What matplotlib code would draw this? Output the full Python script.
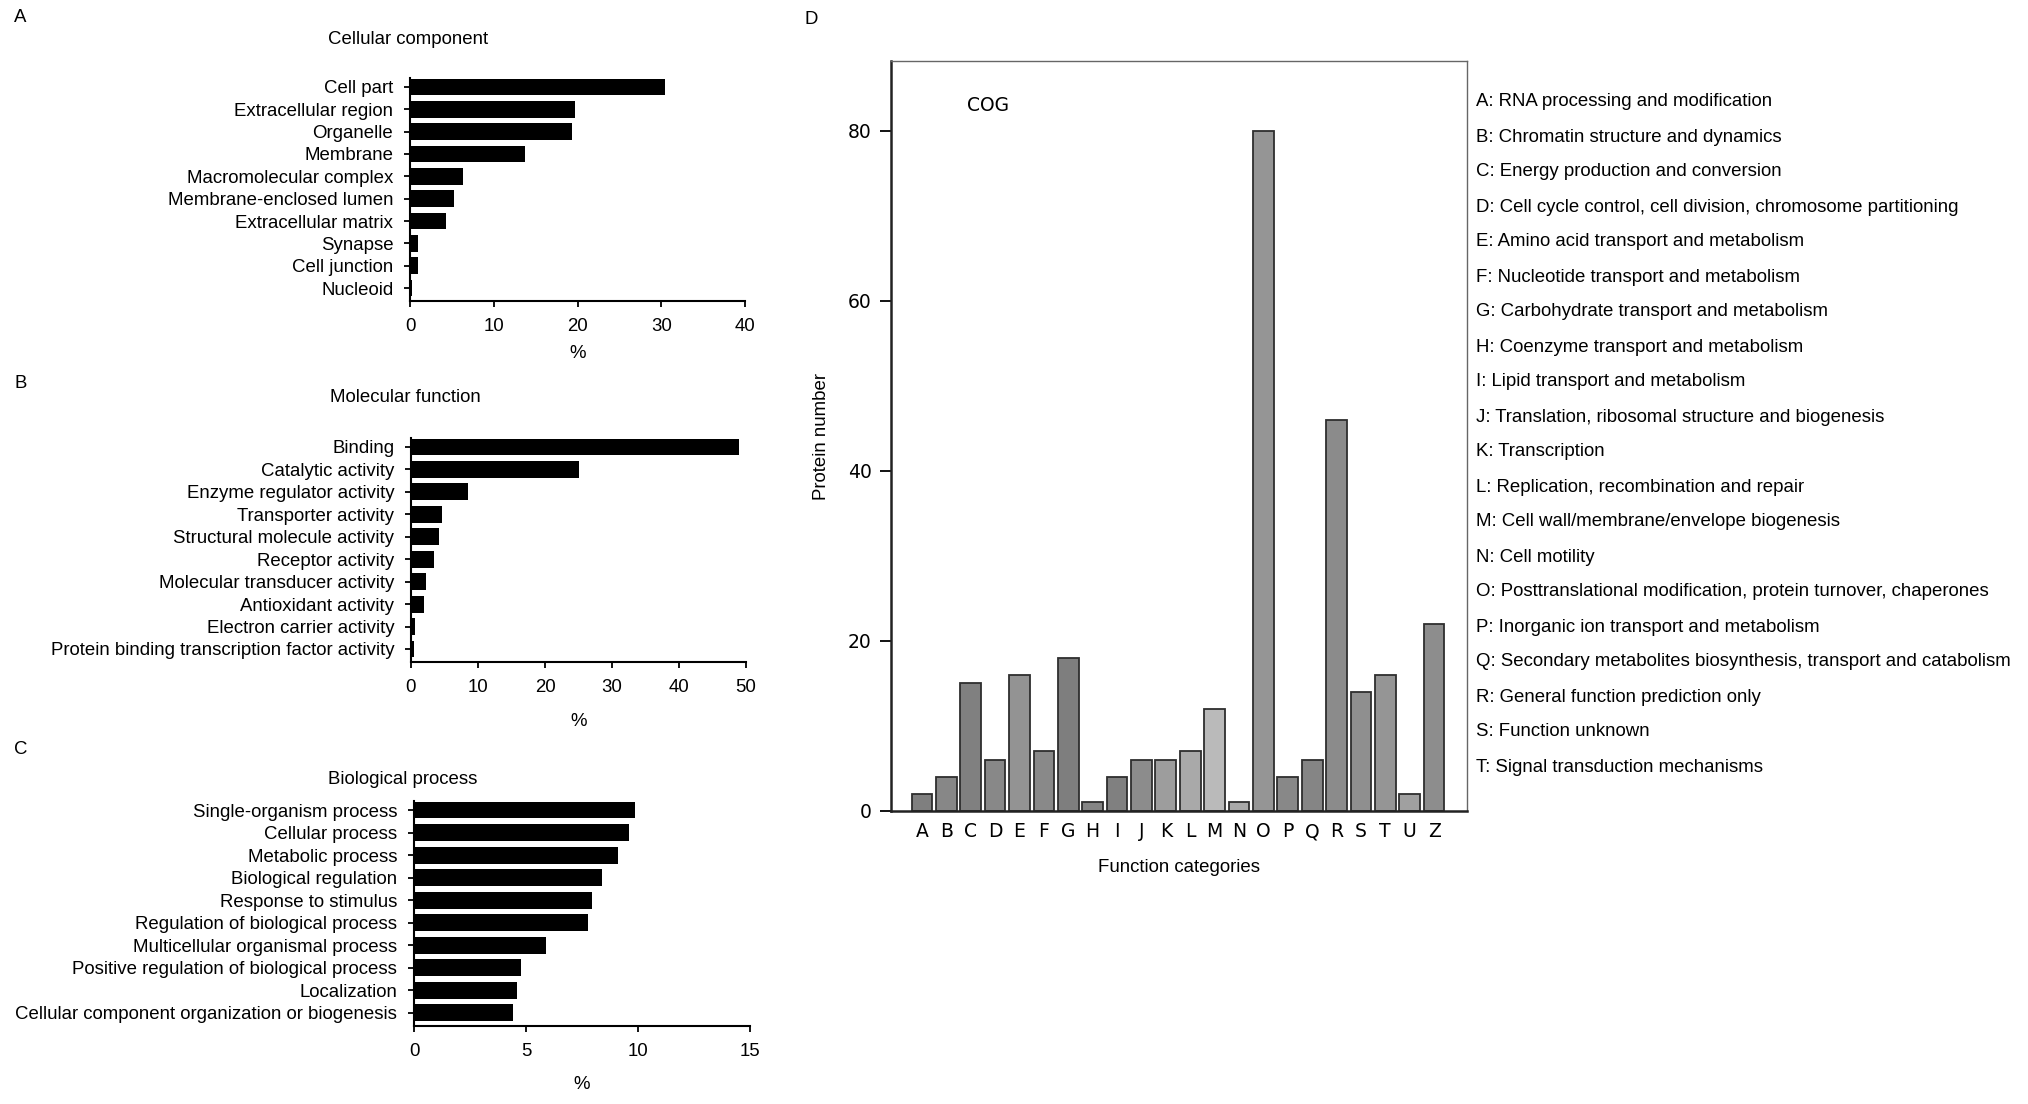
import matplotlib
matplotlib.use("Agg")
import matplotlib.pyplot as plt

plt.rcParams['font.family'] = ['Liberation Sans', 'DejaVu Sans']

# ---------------- data ----------------
cc_labels = ["Cell part", "Extracellular region", "Organelle", "Membrane",
             "Macromolecular complex", "Membrane-enclosed lumen",
             "Extracellular matrix", "Synapse", "Cell junction", "Nucleoid"]
cc_values = [30.5, 19.7, 19.3, 13.7, 6.3, 5.3, 4.3, 0.9, 0.9, 0.2]

mf_labels = ["Binding", "Catalytic activity", "Enzyme regulator activity",
             "Transporter activity", "Structural molecule activity",
             "Receptor activity", "Molecular transducer activity",
             "Antioxidant activity", "Electron carrier activity",
             "Protein binding transcription factor activity"]
mf_values = [48.9, 25.0, 8.5, 4.7, 4.2, 3.4, 2.3, 1.9, 0.6, 0.5]

bp_labels = ["Single-organism process", "Cellular process", "Metabolic process",
             "Biological regulation", "Response to stimulus",
             "Regulation of biological process", "Multicellular organismal process",
             "Positive regulation of biological process", "Localization",
             "Cellular component organization or biogenesis"]
bp_values = [9.87, 9.6, 9.1, 8.4, 7.95, 7.75, 5.9, 4.77, 4.6, 4.43]

cog_letters = ["A", "B", "C", "D", "E", "F", "G", "H", "I", "J", "K", "L",
               "M", "N", "O", "P", "Q", "R", "S", "T", "U", "Z"]
cog_values = [2, 4, 15, 6, 16, 7, 18, 1, 4, 6, 6, 7, 12, 1, 80, 4, 6, 46, 14, 16, 2, 22]
cog_colors = ["#7f7f7f", "#878787", "#808080", "#888888", "#939393", "#898989",
              "#7e7e7e", "#858585", "#808080", "#8c8c8c", "#9d9d9d", "#a9a9a9",
              "#bababa", "#a9a9a9", "#959595", "#888888", "#858585", "#8b8b8b",
              "#8f8f8f", "#959595", "#a0a0a0", "#8d8d8d"]

legend_lines = [
    "A: RNA processing and modification",
    "B: Chromatin structure and dynamics",
    "C: Energy production and conversion",
    "D: Cell cycle control, cell division, chromosome partitioning",
    "E: Amino acid transport and metabolism",
    "F: Nucleotide transport and metabolism",
    "G: Carbohydrate transport and metabolism",
    "H: Coenzyme transport and metabolism",
    "I: Lipid transport and metabolism",
    "J: Translation, ribosomal structure and biogenesis",
    "K: Transcription",
    "L: Replication, recombination and repair",
    "M: Cell wall/membrane/envelope biogenesis",
    "N: Cell motility",
    "O: Posttranslational modification, protein turnover, chaperones",
    "P: Inorganic ion transport and metabolism",
    "Q: Secondary metabolites biosynthesis, transport and catabolism",
    "R: General function prediction only",
    "S: Function unknown",
    "T: Signal transduction mechanisms",
]

W, H = 2028, 1104
fig = plt.figure(figsize=(W / 100, H / 100), dpi=100)


def fx(px):
    return px / W


def fy(py):
    return 1 - py / H


FS = 13.4


def hbar_panel(rect, labels, values, xmax, xticks, title, title_xy, letter_xy, letter, xlabelpad):
    ax = fig.add_axes(rect)
    pos = list(range(len(labels)))
    ax.barh(pos, values, height=0.75, color="black")
    ax.set_ylim(len(labels) - 0.42, -0.4)
    ax.set_xlim(0, xmax)
    ax.set_yticks(pos)
    ax.set_yticklabels(labels, fontsize=FS)
    ax.set_xticks(xticks)
    ax.set_xticklabels([str(t) for t in xticks], fontsize=FS)
    ax.set_xlabel("%", fontsize=FS, labelpad=xlabelpad)
    for s in ["top", "right"]:
        ax.spines[s].set_visible(False)
    for s in ["left", "bottom"]:
        ax.spines[s].set_linewidth(1.5)
    ax.tick_params(axis="x", direction="out", length=4, width=1.3, pad=8.5)
    ax.tick_params(axis="y", direction="out", length=4, width=1.3, pad=8)
    fig.text(fx(title_xy[0]), fy(title_xy[1]), title, ha="center", va="center", fontsize=FS)
    fig.text(fx(letter_xy[0]), fy(letter_xy[1]), letter, ha="left", va="center", fontsize=FS)
    return ax


# Panel A
hbar_panel([fx(410), fy(301), fx(745) - fx(410), fy(78) - fy(301)],
           cc_labels, cc_values, 40, [0, 10, 20, 30, 40],
           "Cellular component", (408, 40), (14, 18), "A", 7)
# Panel B
hbar_panel([fx(411), fy(662), fx(746) - fx(411), fy(438) - fy(662)],
           mf_labels, mf_values, 50, [0, 10, 20, 30, 40, 50],
           "Molecular function", (405, 398), (14, 383), "B", 12)
# Panel C
hbar_panel([fx(414), fy(1026), fx(750) - fx(414), fy(801) - fy(1026)],
           bp_labels, bp_values, 15, [0, 5, 10, 15],
           "Biological process", (403, 779), (14, 750), "C", 11)

# Panel D
axd = fig.add_axes([fx(891), fy(811), fx(1467) - fx(891), fy(61) - fy(811)])
xpos = list(range(len(cog_letters)))
axd.bar(xpos, cog_values, width=0.85, color=cog_colors, edgecolor="#2e2e2e", linewidth=1.3)
axd.set_xlim(-1.27, len(cog_letters) - 1 + 1.35)
axd.set_ylim(0, 88.2)
axd.set_xticks(xpos)
axd.set_xticklabels(cog_letters, fontsize=13.5, family="DejaVu Sans")
axd.set_yticks([0, 20, 40, 60, 80])
axd.set_yticklabels(["0", "20", "40", "60", "80"], fontsize=13.5, family="DejaVu Sans")
axd.tick_params(axis="x", length=0, pad=8)
axd.tick_params(axis="y", direction="out", length=8, width=1.3, pad=6)
axd.spines["left"].set_linewidth(1.8)
axd.spines["bottom"].set_linewidth(1.8)
axd.spines["left"].set_color("#222222")
axd.spines["bottom"].set_color("#222222")
axd.spines["top"].set_linewidth(1.0)
axd.spines["right"].set_linewidth(1.0)
axd.spines["top"].set_color("#666666")
axd.spines["right"].set_color("#666666")
axd.set_xlabel("Function categories", fontsize=FS, labelpad=13)
axd.set_ylabel("Protein number", fontsize=FS, labelpad=12.5)
axd.text(2.7, 83, "COG", ha="center", va="center", fontsize=13.5, family="DejaVu Sans")
fig.text(fx(804), fy(19), "D", ha="left", va="center", fontsize=FS)

# COG legend text
y0, y1 = 102, 767
step = (y1 - y0) / (len(legend_lines) - 1)
for i, line in enumerate(legend_lines):
    fig.text(fx(1476), fy(y0 + i * step), line, ha="left", va="center", fontsize=FS)

fig.savefig("out.png", dpi=100, facecolor="white")
